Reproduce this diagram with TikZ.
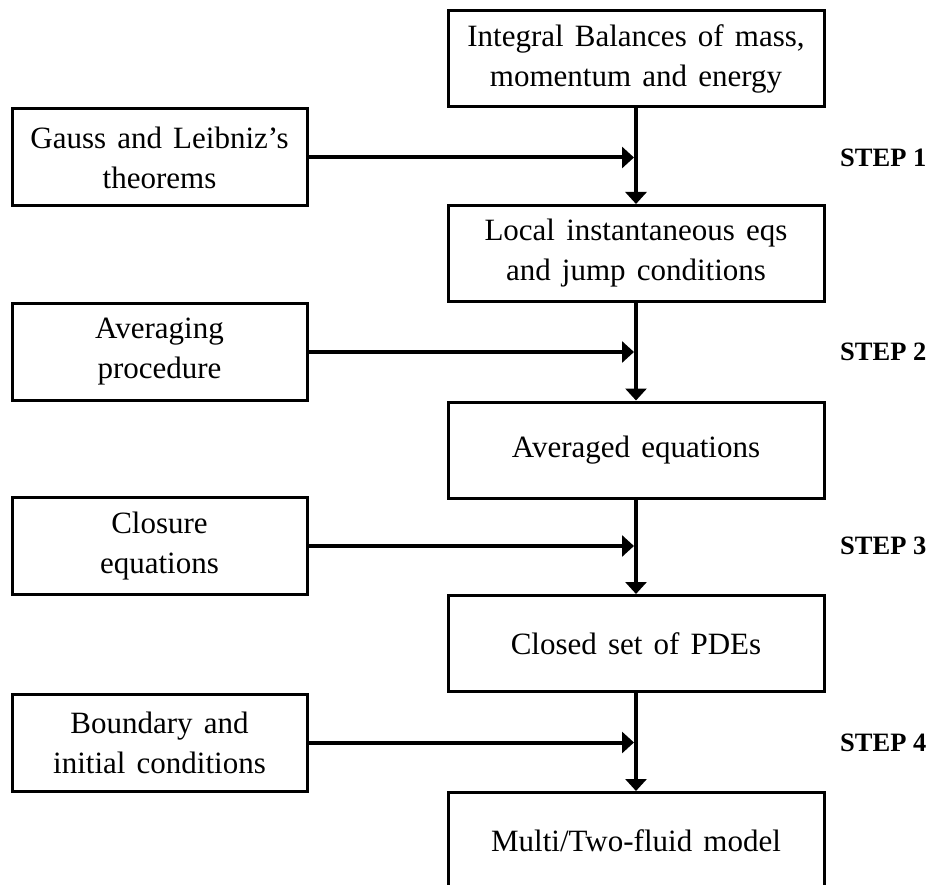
\documentclass[tikz,border=0pt]{standalone}
\usepackage{fontspec}
\setmainfont{Liberation Serif}
\usetikzlibrary{arrows.meta}
\newcommand{\boxfont}{\fontsize{31}{40}\selectfont\spaceskip=0.36em plus 0.1em\relax}
\tikzset{
  mainbox/.style={draw, line width=3pt, minimum width=376pt, minimum height=96pt,
    inner sep=0pt, align=center, font=\boxfont},
  sidebox/.style={draw, line width=3pt, minimum width=295pt, minimum height=97pt,
    inner sep=0pt, align=center, font=\boxfont},
  flow/.style={line width=4pt, -{Triangle[length=12pt,width=21pt]}},
  steplabel/.style={anchor=west, inner sep=0pt, font=\fontsize{26.5}{30}\selectfont\bfseries}
}
\begin{document}
\begin{tikzpicture}[x=1pt,y=-1pt]
\clip (0,0) rectangle (932,885);
\fill[white] (0,0) rectangle (932,885);

% main chain
\node[mainbox] (b1) at (636,59)    {Integral Balances of mass,\\momentum and energy};
\node[mainbox] (b2) at (636,253.5) {Local instantaneous eqs\\and jump conditions};
\node[mainbox] (b3) at (636,450)   {Averaged equations};
\node[mainbox] (b4) at (636,643.5) {Closed set of PDEs};
\node[mainbox] (b5) at (636,840.5) {Multi/Two-fluid model};

% inputs on the left
\node[sidebox] (l1) at (159.5,157.5) {Gauss and Leibniz's\\theorems};
\node[sidebox] (l2) at (159.5,352)   {Averaging\\procedure};
\node[sidebox] (l3) at (159.5,546)   {Closure\\equations};
\node[sidebox] (l4) at (159.5,742.5) {Boundary and\\initial conditions};

% step labels
\node[steplabel] (s1) at (840,157.5) {STEP 1};
\node[steplabel] (s2) at (840,352)   {STEP 2};
\node[steplabel] (s3) at (840,546)   {STEP 3};
\node[steplabel] (s4) at (840,742.5) {STEP 4};

% vertical arrows
\draw[flow] (b1) -- (b2);
\draw[flow] (b2) -- (b3);
\draw[flow] (b3) -- (b4);
\draw[flow] (b4) -- (b5);

% horizontal arrows into the chain
\draw[flow, shorten >=2pt] (l1.east) -- (l1.east -| b1.south);
\draw[flow, shorten >=2pt] (l2.east) -- (l2.east -| b2.south);
\draw[flow, shorten >=2pt] (l3.east) -- (l3.east -| b3.south);
\draw[flow, shorten >=2pt] (l4.east) -- (l4.east -| b4.south);
\end{tikzpicture}
\end{document}
